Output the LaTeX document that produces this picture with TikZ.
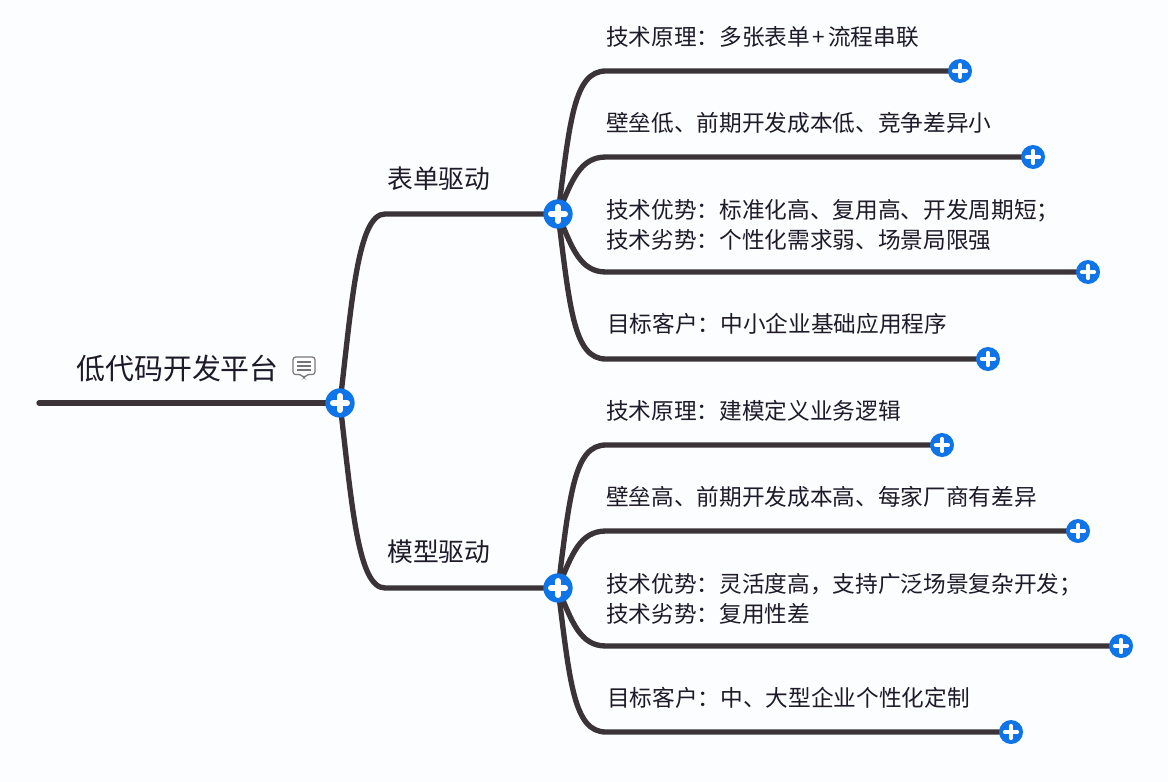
\documentclass[tikz,border=0pt]{standalone}
\usepackage{fontspec}
\setmainfont{Liberation Sans}
\newfontfamily\cjk{Noto Sans CJK SC}
\definecolor{linec}{HTML}{3A3438}
\definecolor{btn}{HTML}{0F74E8}
\definecolor{txt}{HTML}{1E1A2A}
\definecolor{bgc}{HTML}{FCFDFE}
\definecolor{iconc}{HTML}{77757C}
\pgfdeclarelayer{lines}
\pgfsetlayers{lines,main}
\tikzset{
  x=0.75pt,y=-0.75pt,
  branch/.style={draw=linec,line width=4pt,line cap=round},
  plusbtn/.style={circle,fill=btn,draw=none,minimum size=#1,inner sep=0pt,
    path picture={
      \draw[white,line width=#1*0.2,line cap=round]
        ([xshift=-#1*0.24]path picture bounding box.center)--([xshift=#1*0.24]path picture bounding box.center);
      \draw[white,line width=#1*0.2,line cap=round]
        ([yshift=-#1*0.24]path picture bounding box.center)--([yshift=#1*0.24]path picture bounding box.center);
    }},
  leaftext/.style={anchor=west,inner sep=0pt,align=left,font=\cjk\fontsize{17pt}{22.6pt}\selectfont,text=txt},
  midtext/.style={anchor=west,inner sep=0pt,font=\cjk\fontsize{19.35pt}{23pt}\selectfont,text=txt},
  titletext/.style={anchor=west,inner sep=0pt,font=\cjk\fontsize{21.7pt}{26pt}\selectfont,text=txt},
}
\begin{document}
\begin{tikzpicture}
\useasboundingbox (0,0) rectangle (1168,782);
% buttons
\node[plusbtn=22pt] (rootb) at (340,403) {};
\node[plusbtn=22pt] (hubA) at (558,214) {};
\node[plusbtn=22pt] (hubB) at (558,588) {};
\node[plusbtn=18pt] (a1) at (960,71) {};
\node[plusbtn=18pt] (a2) at (1033,157) {};
\node[plusbtn=18pt] (a3) at (1088,272) {};
\node[plusbtn=18pt] (a4) at (988,359) {};
\node[plusbtn=18pt] (b1) at (942,445) {};
\node[plusbtn=18pt] (b2) at (1078,531) {};
\node[plusbtn=18pt] (b3) at (1121,646) {};
\node[plusbtn=18pt] (b4) at (1011,732) {};
\coordinate (start) at (39,403);
% connectors, under the buttons
\begin{pgfonlayer}{lines}
\fill[bgc] (0,0) rectangle (1168,782);
\draw[branch] (start) -- (rootb.center);
\draw[branch] (rootb.center) .. controls (352,300) and (358,214) .. (385,214) -- (hubA.center);
\draw[branch] (rootb.center) .. controls (352,506) and (358,588) .. (385,588) -- (hubB.center);
\draw[branch] (hubA.center) .. controls (570,120) and (574,71) .. (606,71) -- (a1.center);
\draw[branch] (hubA.center) .. controls (572,180) and (580,157) .. (606,157) -- (a2.center);
\draw[branch] (hubA.center) .. controls (572,248) and (580,272) .. (606,272) -- (a3.center);
\draw[branch] (hubA.center) .. controls (570,310) and (574,359) .. (606,359) -- (a4.center);
\draw[branch] (hubB.center) .. controls (570,494) and (574,445) .. (606,445) -- (b1.center);
\draw[branch] (hubB.center) .. controls (572,554) and (580,531) .. (606,531) -- (b2.center);
\draw[branch] (hubB.center) .. controls (572,622) and (580,646) .. (606,646) -- (b3.center);
\draw[branch] (hubB.center) .. controls (570,684) and (574,732) .. (606,732) -- (b4.center);
\end{pgfonlayer}
% text
\node[titletext] (title) at (76,368) {低代码开发平台};
\node[midtext] (mA) at (387,179) {表单驱动};
\node[midtext] (mB) at (387,552) {模型驱动};
\node[leaftext] (ta1) at (606,37) {技术原理：多张表单\kern2pt+\kern2pt流程串联};
\node[leaftext] (ta2) at (606,123) {壁垒低、前期开发成本低、竞争差异小};
\node[leaftext] (ta3) at (606,224.5) {技术优势：标准化高、复用高、开发周期短；\\技术劣势：个性化需求弱、场景局限强};
\node[leaftext] (ta4) at (607,324) {目标客户：中小企业基础应用程序};
\node[leaftext] (tb1) at (606,411) {技术原理：建模定义业务逻辑};
\node[leaftext] (tb2) at (606,497) {壁垒高、前期开发成本高、每家厂商有差异};
\node[leaftext] (tb3) at (606,598.5) {技术优势：灵活度高，支持广泛场景复杂开发；\\技术劣势：复用性差};
\node[leaftext] (tb4) at (607,698) {目标客户：中、大型企业个性化定制};
% note icon
\draw[iconc,line width=0.9pt,rounded corners=2pt,fill=white]
  (293,357) -- (315,357) -- (315,374.5) -- (307,374.5) -- (304,378) -- (301,374.5) -- (293,374.5) -- cycle;
\foreach \yy in {362,366,370}{\draw[iconc,line width=0.9pt] (297,\yy) -- (311,\yy);}
\end{tikzpicture}
\end{document}
